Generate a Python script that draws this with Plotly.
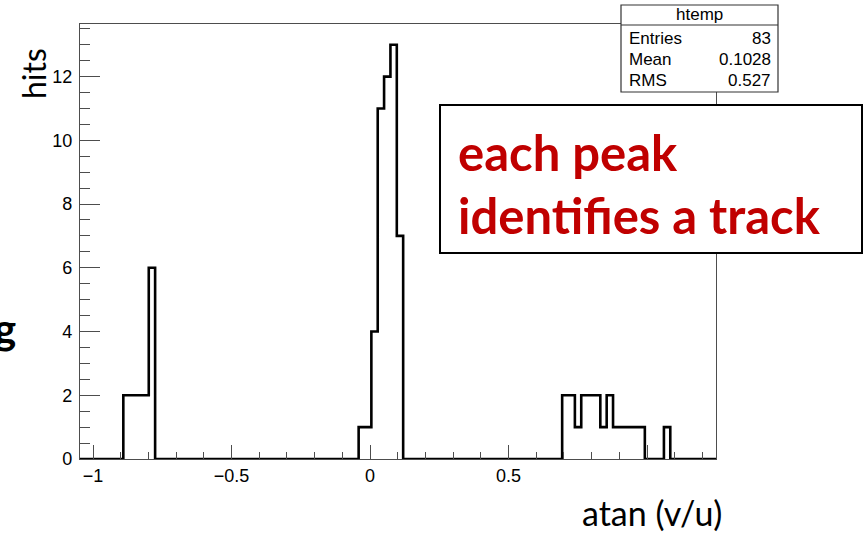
import numpy as np
import plotly.graph_objects as go

# Histogram of atan(v/u) (ROOT "htemp"), fixed-width bins
bin_width = 0.02296
first_edge = -0.8906            # lower edge of the first filled bin
bin_offset = [0, 1, 2, 3, 4,
              37, 38, 39, 40, 41, 42, 43,
              69, 70, 71, 72, 73, 74, 75, 76, 77, 78, 79, 80, 81, 85]
bin_count = [2, 2, 2, 2, 6,
             1, 1, 4, 11, 12, 13, 7,
             2, 2, 1, 2, 2, 2, 1, 2, 1, 1, 1, 1, 1, 1]

x_range = [-1.047, 1.249]
y_range = [0, 13.65]

x_tick_vals = [-1, -0.5, 0, 0.5, 1]
x_tick_text = ["\u22121", "\u22120.5", "0", "0.5", ""]
y_tick_vals = [0, 2, 4, 6, 8, 10, 12]

stats_title = "htemp"
stats_names = ["Entries", "Mean", "RMS"]
stats_values = ["83", "0.1028", "0.527"]

# full bin grid covering the axis range
n_lo = int(np.floor((x_range[0] - first_edge) / bin_width)) - 1
n_hi = int(np.ceil((x_range[1] - first_edge) / bin_width)) + 1
idx = np.arange(n_lo, n_hi)
counts = np.zeros(len(idx))
for o, c in zip(bin_offset, bin_count):
    counts[o - n_lo] = c
edges = first_edge + np.append(idx, n_hi) * bin_width
ys = np.append(counts, counts[-1])

fig = go.Figure()
fig.add_trace(go.Scatter(
    x=edges, y=ys, mode="lines", line=dict(color="black", width=2.6, shape="hv"),
    hoverinfo="skip", showlegend=False))

W, H = 864, 533
L, R, T, B = 80, 716, 24, 459


def px(x):
    return (x - L) / (R - L)


def py(y):
    return (B - y) / (B - T)


frame = "#4d4d4d"
tick_font = dict(family="Liberation Sans, Arial, sans-serif", size=18, color="black")

fig.update_layout(
    width=W, height=H,
    margin=dict(l=L, r=W - R, t=T, b=H - B, pad=0),
    paper_bgcolor="white", plot_bgcolor="white",
    xaxis=dict(range=x_range, showgrid=False, zeroline=False,
               showline=True, linecolor=frame, linewidth=1.3, mirror=True,
               ticks="inside", ticklen=14, tickwidth=1.2, tickcolor=frame,
               tickvals=x_tick_vals, ticktext=x_tick_text, tickfont=tick_font,
               ticklabelstandoff=0,
               minor=dict(ticks="inside", dtick=0.1, tick0=0, ticklen=7,
                          tickwidth=1.2, tickcolor=frame, showgrid=False)),
    yaxis=dict(range=y_range, showgrid=False, zeroline=False,
               showline=True, linecolor=frame, linewidth=1.3, mirror=True,
               ticks="inside", ticklen=20, tickwidth=1.2, tickcolor=frame,
               tickvals=y_tick_vals, tickfont=tick_font, ticklabelstandoff=3,
               minor=dict(ticks="inside", dtick=0.5, tick0=0, ticklen=10,
                          tickwidth=1.2, tickcolor=frame, showgrid=False)),
)

# statistics box
fig.add_shape(type="rect", xref="paper", yref="paper",
              x0=px(621), x1=px(778), y0=py(92), y1=py(5),
              line=dict(color="#333333", width=1.2), fillcolor="white", layer="above")
fig.add_shape(type="line", xref="paper", yref="paper",
              x0=px(621), x1=px(778), y0=py(25), y1=py(25),
              line=dict(color="#333333", width=1.2), layer="above")
stat_font = dict(family="Liberation Sans, Arial, sans-serif", size=17, color="black")
fig.add_annotation(xref="paper", yref="paper", x=px(699.5), y=py(15), text=stats_title,
                   showarrow=False, xanchor="center", yanchor="middle", font=stat_font)
for i, (name, val) in enumerate(zip(stats_names, stats_values)):
    yy = py(38 + 21 * i)
    fig.add_annotation(xref="paper", yref="paper", x=px(627), y=yy, text=name,
                       showarrow=False, xanchor="left", yanchor="middle", font=stat_font)
    fig.add_annotation(xref="paper", yref="paper", x=px(773), y=yy, text=val,
                       showarrow=False, xanchor="right", yanchor="middle", font=stat_font)

# callout box
fig.add_shape(type="rect", xref="paper", yref="paper",
              x0=px(440), x1=px(862), y0=py(253), y1=py(105),
              line=dict(color="black", width=2), fillcolor="white", layer="above")
red_font = dict(family="Lato, sans-serif", size=49, color="#C00000", weight="bold")
fig.add_annotation(xref="paper", yref="paper", x=px(456), y=py(152), text="each peak",
                   showarrow=False, xanchor="left", yanchor="middle", font=red_font)
fig.add_annotation(xref="paper", yref="paper", x=px(456), y=py(215), text="identifies a track",
                   showarrow=False, xanchor="left", yanchor="middle", font=red_font)

# axis titles
fig.add_annotation(xref="paper", yref="paper", x=px(34), y=py(74), text="hits",
                   textangle=-90, showarrow=False, xanchor="center", yanchor="middle",
                   font=dict(family="Lato, sans-serif", size=32, color="black"))
fig.add_annotation(xref="paper", yref="paper", x=px(652), y=py(512), text="atan (v/u)",
                   showarrow=False, xanchor="center", yanchor="middle",
                   font=dict(family="Lato, sans-serif", size=34, color="black"))
fig.add_annotation(xref="paper", yref="paper", x=px(18), y=py(328), text="g",
                   showarrow=False, xanchor="right", yanchor="middle",
                   font=dict(family="Lato, sans-serif", size=42, color="black", weight="bold"))

fig.write_html("out.html")
